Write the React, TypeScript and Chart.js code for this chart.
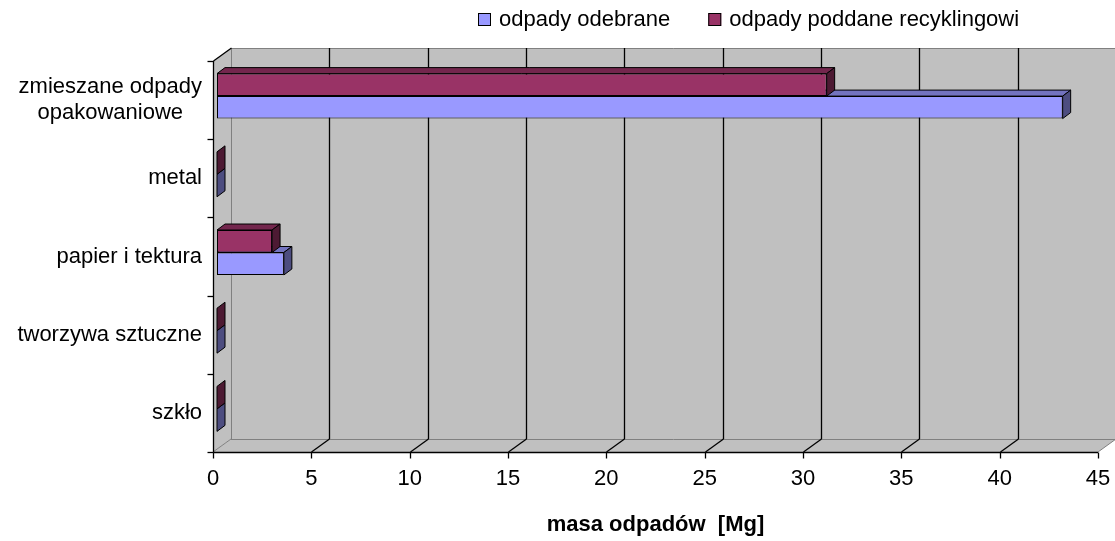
import { useEffect, useRef } from 'react';
import { Chart, registerables } from 'chart.js';

Chart.register(...registerables);

// ---- data ----
const categories: (string | string[])[] = [
  ['zmieszane odpady', 'opakowaniowe'],
  'metal',
  'papier i tektura',
  'tworzywa sztuczne',
  'szkło',
];
const collected = [43, 0, 3.4, 0, 0]; // odpady odebrane
const recycled = [31, 0, 2.8, 0, 0]; // odpady poddane recyklingowi
const seriesNames = ['odpady odebrane', 'odpady poddane recyklingowi'];
const xTicks = [0, 5, 10, 15, 20, 25, 30, 35, 40, 45];
const xTitle = 'masa odpadów  [Mg]';

// ---- styles ----
const BLUE = '#9999FF';
const RED = '#993366';
const GRAY = '#C0C0C0';
const FONT = '"Liberation Sans", Arial, sans-serif';
const FS = 22;
const DX = 18, DY = -13; // wall depth
const BX = 4, BY = -4; // bar plane shift
const BDX = 8, BDY = -6; // bar depth

function shade(hex: string, f: number) {
  const n = parseInt(hex.slice(1), 16);
  const r = Math.round(((n >> 16) & 255) * f);
  const g = Math.round(((n >> 8) & 255) * f);
  const b = Math.round((n & 255) * f);
  return `rgb(${r},${g},${b})`;
}

function poly(ctx: CanvasRenderingContext2D, pts: number[][], fill?: string, stroke?: string) {
  ctx.beginPath();
  ctx.moveTo(pts[0][0], pts[0][1]);
  for (let i = 1; i < pts.length; i++) ctx.lineTo(pts[i][0], pts[i][1]);
  ctx.closePath();
  if (fill) { ctx.fillStyle = fill; ctx.fill(); }
  if (stroke) { ctx.strokeStyle = stroke; ctx.lineWidth = 1; ctx.stroke(); }
}

function line(ctx: CanvasRenderingContext2D, x1: number, y1: number, x2: number, y2: number, color: string, w = 1) {
  ctx.beginPath();
  ctx.moveTo(x1, y1);
  ctx.lineTo(x2, y2);
  ctx.strokeStyle = color;
  ctx.lineWidth = w;
  ctx.stroke();
}

const threeD = {
  id: 'threeD',
  beforeDatasetsDraw(chart: any) {
    const { ctx, chartArea: a, scales } = chart;
    const x = scales.x;
    const L = a.left, R = a.right, T = a.top, B = a.bottom;
    ctx.save();
    // side wall
    poly(ctx, [[L, T], [L + DX, T + DY], [L + DX, B + DY], [L, B]], GRAY);
    // back wall
    poly(ctx, [[L + DX, T + DY], [R + DX, T + DY], [R + DX, B + DY], [L + DX, B + DY]], GRAY);
    // floor
    poly(ctx, [[L, B], [L + DX, B + DY], [R + DX, B + DY], [R, B]], GRAY);
    // back wall edges
    line(ctx, L + DX + 0.5, T + DY, L + DX + 0.5, B + DY, '#808080');
    line(ctx, L + DX, T + DY + 0.5, R + DX, T + DY + 0.5, '#808080');
    line(ctx, L + DX, B + DY + 0.5, R + DX, B + DY + 0.5, '#808080');
    line(ctx, L, B, L + DX, B + DY, '#808080');
    line(ctx, R, B, R + DX, B + DY, '#808080');
    // gridlines
    for (const v of xTicks) {
      if (v === 0 || v === 45) continue;
      const xf = Math.round(x.getPixelForValue(v)) + 0.5;
      line(ctx, xf + DX, T + DY, xf + DX, B + DY, '#000', 1.3);
      line(ctx, xf, B, xf + DX, B + DY, '#000', 1.3);
    }
    ctx.restore();
    ctx.save();
    ctx.translate(BX, BY);
  },
  afterDatasetDraw(chart: any, args: any) {
    const { ctx } = chart;
    const ds = chart.data.datasets[args.index];
    const base = ds.backgroundColor as string;
    const top = shade(base, 0.75);
    const side = shade(base, 0.5);
    ctx.save();
    for (const el of args.meta.data) {
      const p = el.getProps(['x', 'y', 'base', 'height'], true);
      const l = Math.min(p.x, p.base);
      const r = Math.max(p.x, p.base);
      const t = p.y - p.height / 2;
      const b = p.y + p.height / 2;
      if (r - l > 0.5) {
        poly(ctx, [[l, t], [l + BDX, t + BDY], [r + BDX, t + BDY], [r, t]], top, '#000');
      }
      poly(ctx, [[r, t], [r + BDX, t + BDY], [r + BDX, b + BDY], [r, b]], side, '#000');
    }
    ctx.restore();
  },
  afterDatasetsDraw(chart: any) {
    const { ctx, chartArea: a, scales } = chart;
    ctx.restore();
    const x = scales.x, y = scales.y;
    const L = Math.round(a.left) + 0.5, R = a.right, T = a.top, B = Math.round(a.bottom) + 0.5;
    ctx.save();
    // axes
    line(ctx, L, T, L, B, '#000', 1.3);
    line(ctx, L, B, R, B, '#000', 1.3);
    line(ctx, L, T, L + DX, T + DY, '#000', 1.3);
    // x ticks
    for (const v of xTicks) {
      const xf = Math.round(x.getPixelForValue(v)) + 0.5;
      line(ctx, xf, B, xf, B + 6, '#000', 1.3);
    }
    // y ticks
    const n = categories.length;
    const step = (a.bottom - a.top) / n;
    for (let i = 0; i <= n; i++) {
      const yy = Math.round(a.top + i * step) + 0.5;
      line(ctx, L - 6, yy, L, yy, '#000', 1.3);
    }
    // y labels
    ctx.font = `${FS}px ${FONT}`;
    ctx.fillStyle = '#000';
    ctx.textBaseline = 'middle';
    const rightX = a.left - 11;
    categories.forEach((c, i) => {
      const cy = y.getPixelForValue(i);
      const lines = Array.isArray(c) ? c : [c];
      const w = Math.max(...lines.map((s) => ctx.measureText(s).width));
      const cx = rightX - w / 2;
      ctx.textAlign = 'center';
      lines.forEach((s, j) => {
        ctx.fillText(s, cx, cy + (j - (lines.length - 1) / 2) * 26);
      });
    });
    // legend
    const legendColors = [BLUE, RED];
    let lx = 478;
    const ly = 13;
    ctx.textAlign = 'left';
    seriesNames.forEach((name, i) => {
      ctx.fillStyle = legendColors[i];
      ctx.fillRect(lx, ly, 13, 13);
      ctx.strokeStyle = '#000';
      ctx.lineWidth = 1;
      ctx.strokeRect(lx + 0.5, ly + 0.5, 12, 12);
      ctx.fillStyle = '#000';
      ctx.fillText(name, lx + 21, ly + 7);
      lx += 21 + ctx.measureText(name).width + 38;
    });
    ctx.restore();
  },
};

export default function App() {
  const ref = useRef<HTMLCanvasElement>(null);
  useEffect(() => {
    document.body.style.margin = '0';
    const chart = new Chart(ref.current!, {
      type: 'bar',
      data: {
        labels: categories as any,
        datasets: [
          { label: seriesNames[1], data: recycled, backgroundColor: RED, borderColor: '#000', borderWidth: 1, borderSkipped: false, clip: false as any },
          { label: seriesNames[0], data: collected, backgroundColor: BLUE, borderColor: '#000', borderWidth: 1, borderSkipped: false, clip: false as any },
        ],
      },
      options: {
        animation: false,
        responsive: true,
        maintainAspectRatio: false,
        indexAxis: 'y',
        layout: { padding: { top: 61, right: 17, left: 0, bottom: 0 } },
        datasets: { bar: { categoryPercentage: 0.575, barPercentage: 1 } },
        plugins: { legend: { display: false }, tooltip: { enabled: false } },
        scales: {
          x: {
            type: 'linear',
            min: 0,
            max: 45,
            ticks: { stepSize: 5, color: '#000', font: { family: FONT, size: FS }, padding: 14 },
            grid: { display: false, drawTicks: false },
            border: { display: false },
            title: { display: true, text: xTitle, color: '#000', font: { family: FONT, size: FS, weight: 'bold' }, padding: { top: 0, bottom: 3 } },
            afterFit: (s: any) => { s.height = 89; s.paddingLeft = 0; s.paddingRight = 0; },
          },
          y: {
            type: 'category',
            ticks: { display: false },
            grid: { display: false, drawTicks: false },
            border: { display: false },
            afterFit: (s: any) => { s.width = 213; },
          },
        },
      },
      plugins: [threeD],
    });
    return () => chart.destroy();
  }, []);
  return (
    <div style={{ width: 1115, height: 541, position: 'relative' }}>
      <canvas ref={ref} />
    </div>
  );
}
